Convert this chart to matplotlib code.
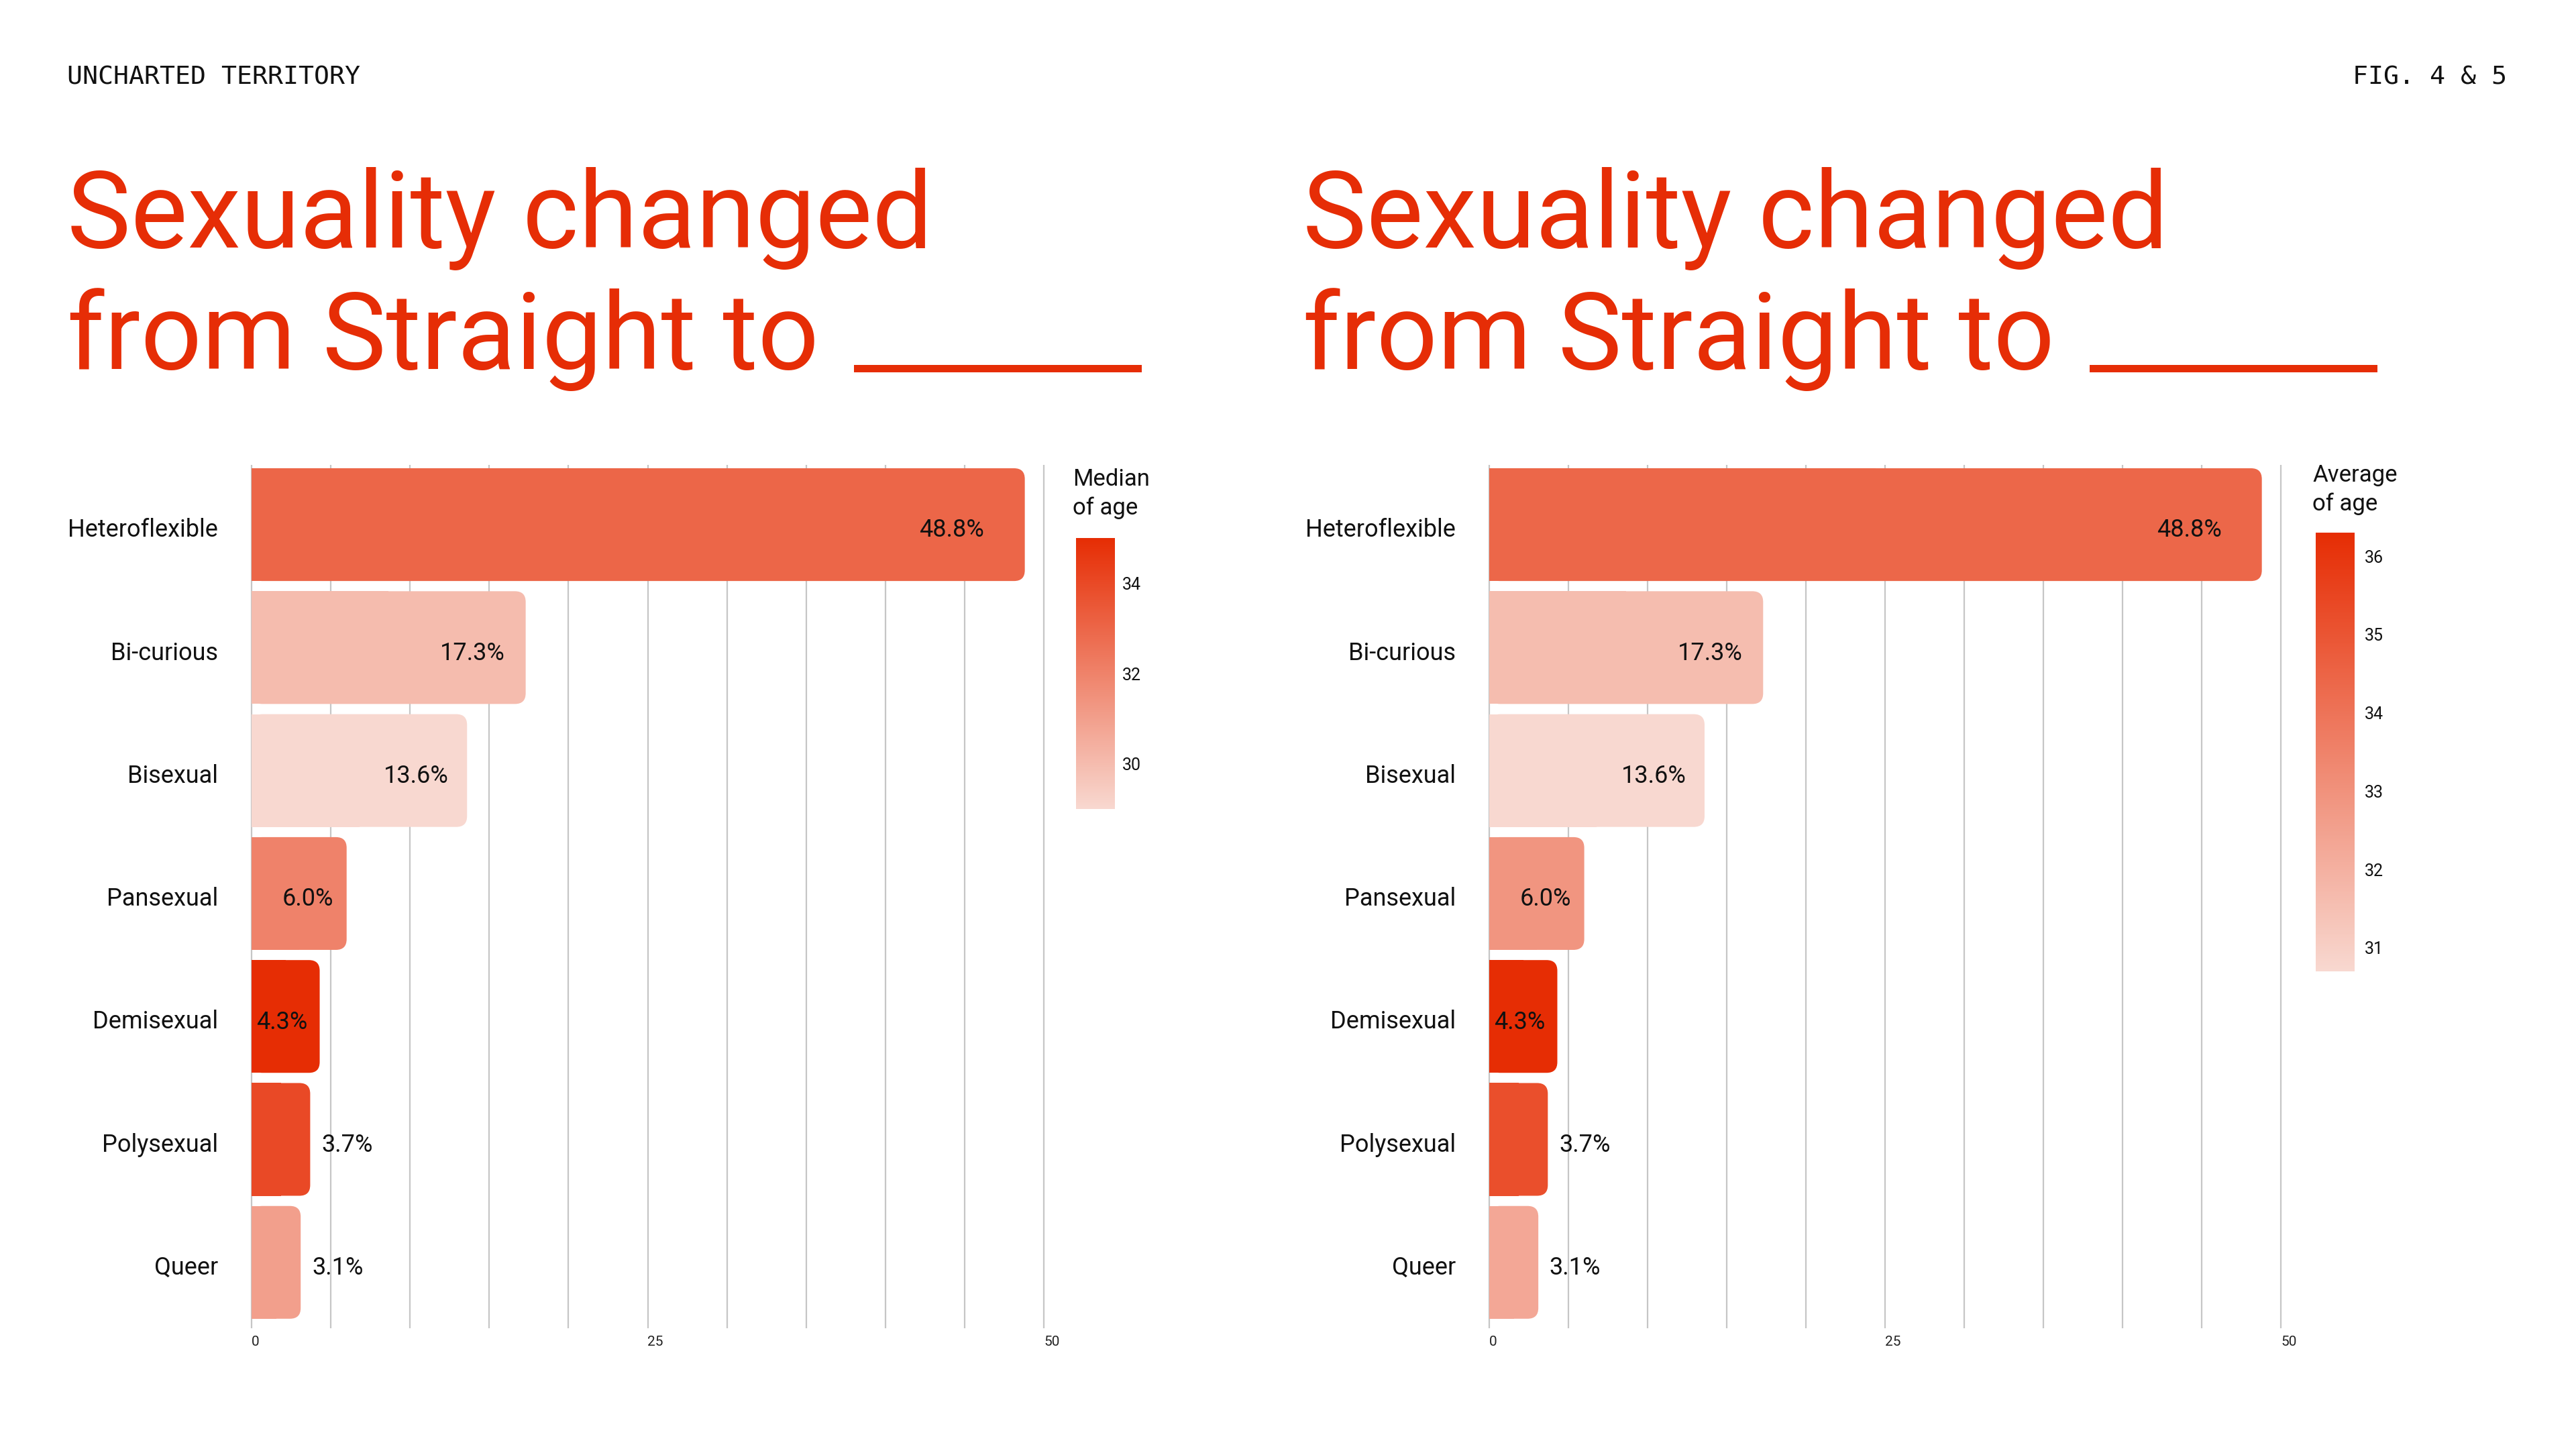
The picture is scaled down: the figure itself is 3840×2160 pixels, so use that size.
import matplotlib
matplotlib.use("Agg")
import matplotlib.pyplot as plt
from matplotlib.patches import FancyBboxPatch, Rectangle
from matplotlib.colors import LinearSegmentedColormap, Normalize
from matplotlib.cm import ScalarMappable
from matplotlib.transforms import ScaledTranslation

plt.rcParams['font.family'] = ['Roboto', 'DejaVu Sans']

# ---------------- data ----------------
categories = ["Heteroflexible", "Bi-curious", "Bisexual", "Pansexual",
              "Demisexual", "Polysexual", "Queer"]
share_pct = [48.8, 17.3, 13.6, 6.0, 4.3, 3.7, 3.1]
median_age = [33, 30, 29, 32, 35, 34, 31]
average_age = [34.4, 31.6, 30.7, 32.9, 36.3, 35.2, 32.3]
median_ticks = [30, 32, 34]
average_ticks = [31, 32, 33, 34, 35, 36]
x_ticks = [0, 25, 50]
x_grid = list(range(0, 51, 5))

title_line1 = "Sexuality changed"
title_line2 = "from Straight to"
header_left = "UNCHARTED TERRITORY"
header_right = "FIG. 4 & 5"

# ---------------- style ----------------
RED = "#e62d06"
INK = "#111111"
GRID = "#c6c6c6"
cmap = LinearSegmentedColormap.from_list("age", ["#f8d8d0", "#e62d04"])

W, H = 3840, 2160
fig = plt.figure(figsize=(W / 100, H / 100), dpi=100)
fig.patch.set_facecolor("white")


def fx(px):
    return px / W


def fy(py):
    return 1 - py / H


# header
fig.text(fx(100), fy(126), header_left, family="DejaVu Sans Mono",
         fontsize=27.5, color=INK, va="baseline", ha="left")
fig.text(fx(3737), fy(126), header_right, family="DejaVu Sans Mono",
         fontsize=27.5, color=INK, va="baseline", ha="right")

Y_TOP, Y_BOT = 693, 1980
YLIM = (6.536, -0.486)
BAR_H = 0.917
RADIUS_PX = 16


def panel(offset, x0, x1, ages, cb_box, cb_ticks, cb_title, cb_title_base, cb_pad):
    # title
    fig.text(fx(100 + offset), fy(369), title_line1, fontsize=115, color=RED,
             va="baseline", ha="left")
    fig.text(fx(100 + offset), fy(550), title_line2, fontsize=115, color=RED,
             va="baseline", ha="left")
    fig.add_artist(Rectangle((fx(1273 + offset), fy(555)), fx(429), 11 / H,
                             transform=fig.transFigure, color=RED, lw=0))

    ax = fig.add_axes([fx(x0), fy(Y_BOT), fx(x1 - x0), (Y_BOT - Y_TOP) / H])
    ax.set_xlim(0, 50)
    ax.set_ylim(*YLIM)
    for s in ax.spines.values():
        s.set_visible(False)

    ppx = (x1 - x0) / 50.0
    ppy = (Y_BOT - Y_TOP) / abs(YLIM[0] - YLIM[1])
    r = RADIUS_PX / ppx
    asp = ppx / ppy

    # vertical grid lines
    ax.vlines(x_grid, YLIM[0], YLIM[1], colors=GRID, lw=1.6, zorder=0.5,
              clip_on=False)

    norm = Normalize(min(ages), max(ages))
    for i, (v, a) in enumerate(zip(share_pct, ages)):
        c = cmap(norm(a))
        ax.add_patch(FancyBboxPatch((0, i - BAR_H / 2), v, BAR_H,
                                    boxstyle=f"round,pad=0,rounding_size={r}",
                                    mutation_aspect=asp, fc=c, ec="none",
                                    lw=0, zorder=2))
        ax.add_patch(Rectangle((0, i - BAR_H / 2), v / 2, BAR_H, fc=c,
                               ec="none", lw=0, zorder=2))
        label = f"{v:.1f}%"
        if v >= 4:
            ax.annotate(label, (v - (0.04 * v + 0.6), i), xytext=(0, -6),
                        textcoords="offset points", ha="right", va="center",
                        fontsize=26, color=INK, zorder=3)
        else:
            ax.annotate(label, (v, i), xytext=(12, -6),
                        textcoords="offset points", ha="left", va="center",
                        fontsize=26, color=INK, zorder=3)

    ax.set_yticks(range(len(categories)))
    ax.set_yticklabels(categories, fontsize=26, color=INK)
    ax.tick_params(axis="y", length=0, pad=36)
    shift = ScaledTranslation(0, -3 / 72, fig.dpi_scale_trans)
    for t in ax.yaxis.get_major_ticks():
        t.label1.set_transform(t.label1.get_transform() + shift)

    ax.set_xticks(x_ticks)
    ax.set_xticklabels([str(t) for t in x_ticks], fontsize=15, color="#222222")
    for lbl in ax.get_xticklabels():
        lbl.set_ha("left")
    ax.tick_params(axis="x", which="both", length=0, pad=8)
    ax.grid(False)

    # colorbar
    cl, ct, cr, cbm = cb_box
    cax = fig.add_axes([fx(cl), fy(cbm), fx(cr - cl), (cbm - ct) / H])
    cb = fig.colorbar(ScalarMappable(norm=norm, cmap=cmap), cax=cax,
                      ticks=cb_ticks)
    cb.outline.set_visible(False)
    cax.tick_params(length=0, labelsize=18, pad=cb_pad, colors=INK)
    b1, b2 = cb_title_base
    fig.text(fx(cl - 5), fy(b1), cb_title[0], fontsize=25, color=INK,
             va="baseline", ha="left")
    fig.text(fx(cl - 5), fy(b2), cb_title[1], fontsize=25, color=INK,
             va="baseline", ha="left")


panel(0, 375, 1556, median_age, (1604, 802, 1662, 1206), median_ticks,
      ("Median", "of age"), (724, 767), 8)
panel(1842, 2220, 3400, average_age, (3452, 794, 3510, 1448), average_ticks,
      ("Average", "of age"), (718, 761), 11)

fig.savefig("out.png", dpi=100, facecolor="white")
